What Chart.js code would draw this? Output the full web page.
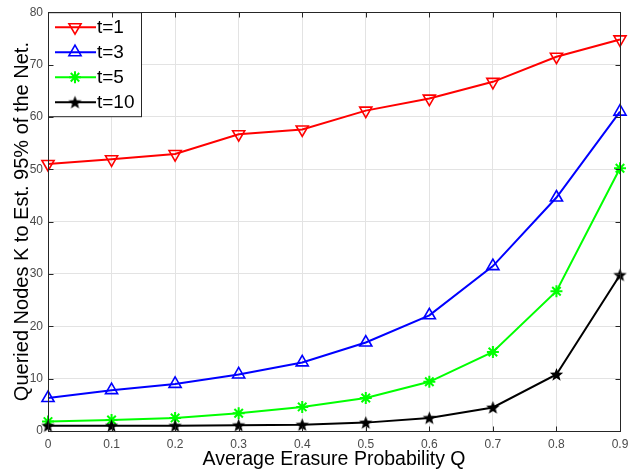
<!DOCTYPE html>
<html>
<head>
<meta charset="utf-8">
<script src="https://cdn.jsdelivr.net/npm/chart.js@4.4.1/dist/chart.umd.min.js"></script>
<style>
	html, body { margin: 0; padding: 0; background: #fff; }
	#wrap { position: relative; width: 644px; height: 473px; }
</style>
</head>
<body>
<div id="wrap"><canvas id="c" width="644" height="473"></canvas></div>
<script>
// Average erasure probability Q on the x axis
const qValues = [0, 0.1, 0.2, 0.3, 0.4, 0.5, 0.6, 0.7, 0.8, 0.9];

// Queried nodes K needed to estimate 95% of the network, per t
const kT1 = [51.0, 51.9, 52.9, 56.7, 57.6, 61.2, 63.5, 66.7, 71.5, 74.8];
const kT3 = [6.3, 7.8, 9.0, 10.8, 13.1, 16.9, 22.1, 31.5, 44.6, 61.0];
const kT5 = [1.8, 2.1, 2.5, 3.4, 4.6, 6.3, 9.4, 15.1, 26.7, 50.2];
const kT10 = [1.0, 1.0, 1.0, 1.1, 1.2, 1.6, 2.5, 4.5, 10.8, 29.8];

const seriesLabels = ["t=1", "t=3", "t=5", "t=10"];
const xTicks = [0, 0.1, 0.2, 0.3, 0.4, 0.5, 0.6, 0.7, 0.8, 0.9];
const yTicks = [0, 10, 20, 30, 40, 50, 60, 70, 80];

const FONT = "'Liberation Sans', Arial, Helvetica, sans-serif";

// filled five-point star (MATLAB 'p' marker) as an image point style
function make_star(size, color) {
	const cv = document.createElement("canvas");
	cv.width = size;
	cv.height = size;
	const ctx = cv.getContext("2d");
	const cx = size / 2, cy = size / 2 + 0.5;
	const ro = size / 2 - 0.5, ri = ro * 0.42;
	ctx.beginPath();
	for (let i = 0; i < 10; i++) {
		const r = i % 2 === 0 ? ro : ri;
		const a = -Math.PI / 2 + (i * Math.PI) / 5;
		const px = cx + r * Math.cos(a), py = cy + r * Math.sin(a);
		if (i === 0) ctx.moveTo(px, py);
		else ctx.lineTo(px, py);
	}
	ctx.closePath();
	ctx.fillStyle = color;
	ctx.fill();
	return cv;
}
const starImg = make_star(15, "#000");

const toPoints = (ys) => ys.map((y, i) => ({ x: qValues[i], y: y }));

// legend box inside the top-left corner, like MATLAB 'NorthWest'
const insideLegend = {
	id: "insideLegend",
	afterDatasetsDraw(chart) {
		const ctx = chart.ctx;
		const a = chart.chartArea;
		const x0 = a.left, y0 = a.top, w = 93, h = 104;
		ctx.save();
		ctx.fillStyle = "#fff";
		ctx.fillRect(x0, y0, w, h);
		ctx.strokeStyle = "#262626";
		ctx.lineWidth = 1;
		ctx.strokeRect(x0 + 0.5, y0 + 0.5, w, h);
		chart.data.datasets.forEach((ds, i) => {
			const cy = y0 + 15 + i * 25;
			ctx.strokeStyle = ds.borderColor;
			ctx.lineWidth = 2;
			ctx.beginPath();
			ctx.moveTo(x0 + 7, cy);
			ctx.lineTo(x0 + 48, cy);
			ctx.stroke();
			ctx.fillStyle = "rgba(0,0,0,0)";
			ctx.lineWidth = ds.pointBorderWidth;
			Chart.helpers.drawPoint(ctx, {
				pointStyle: ds.pointStyle,
				radius: ds.pointRadius,
				rotation: ds.pointRotation || 0,
				borderWidth: ds.pointBorderWidth,
			}, x0 + 27, cy);
			ctx.fillStyle = "#000";
			ctx.font = "19px " + FONT;
			ctx.textBaseline = "middle";
			ctx.fillText(ds.label, x0 + 49, cy + 1);
		});
		ctx.restore();
	},
};

// full axes box with inward ticks on all sides, MATLAB style
const boxFrame = {
	id: "boxFrame",
	afterDraw(chart) {
		const ctx = chart.ctx;
		const a = chart.chartArea;
		const L = Math.round(a.left) + 0.5, T = Math.round(a.top) + 0.5;
		const R = Math.round(a.right) + 0.5, B = Math.round(a.bottom) + 0.5;
		ctx.save();
		ctx.strokeStyle = "#262626";
		ctx.lineWidth = 1;
		ctx.beginPath();
		xTicks.forEach((v) => {
			const px = Math.round(chart.scales.x.getPixelForValue(v)) + 0.5;
			ctx.moveTo(px, B); ctx.lineTo(px, B - 5);
			ctx.moveTo(px, T); ctx.lineTo(px, T + 5);
		});
		yTicks.forEach((v) => {
			const py = Math.round(chart.scales.y.getPixelForValue(v)) + 0.5;
			ctx.moveTo(L, py); ctx.lineTo(L + 5, py);
			ctx.moveTo(R, py); ctx.lineTo(R - 5, py);
		});
		ctx.stroke();
		ctx.strokeRect(L, T, R - L, B - T);
		ctx.restore();
	},
};

const mkSet = (label, data, color, style, extra) => Object.assign({
	label: label,
	data: toPoints(data),
	borderColor: color,
	backgroundColor: "transparent",
	borderWidth: 2,
	pointStyle: style,
	pointRadius: 7,
	pointBorderColor: color,
	pointBackgroundColor: "transparent",
	pointBorderWidth: 1.6,
	tension: 0,
	fill: false,
	clip: false,
}, extra || {});

// draw order: first series on the bottom, as in MATLAB
new Chart(document.getElementById("c"), {
	type: "line",
	data: {
		datasets: [
			mkSet(seriesLabels[0], kT1, "#ff0000", "triangle", { pointRotation: 180, order: 4 }),
			mkSet(seriesLabels[1], kT3, "#0000ff", "triangle", { order: 3 }),
			mkSet(seriesLabels[2], kT5, "#00ff00", "star", { pointRadius: 6, pointBorderWidth: 2, order: 2 }),
			mkSet(seriesLabels[3], kT10, "#000000", starImg, { order: 1 }),
		],
	},
	options: {
		responsive: false,
		animation: false,
		devicePixelRatio: 1,
		layout: { padding: { left: 0, top: 8, right: 24, bottom: 0 } },
		plugins: { legend: { display: false }, tooltip: { enabled: false } },
		scales: {
			x: {
				type: "linear",
				min: 0,
				max: 0.9,
				afterBuildTicks: (s) => { s.ticks = xTicks.map((v) => ({ value: v })); },
				afterFit: (s) => { s.height = 42; },
				grid: { color: "#e3e3e3", tickLength: 0, drawTicks: false },
				border: { display: false },
				ticks: {
					color: "#4a4a4a",
					font: { family: FONT, size: 12 },
					padding: 6,
					maxRotation: 0,
					callback: (v) => String(Math.round(v * 10) / 10),
				},
				title: {
					display: true,
					text: "Average Erasure Probability Q",
					color: "#000",
					font: { family: FONT, size: 19.5 },
					padding: { top: 0, bottom: 2 },
				},
			},
			y: {
				min: 0,
				max: 80,
				afterBuildTicks: (s) => { s.ticks = yTicks.map((v) => ({ value: v })); },
				afterFit: (s) => { s.width = 48; },
				grid: { color: "#e3e3e3", tickLength: 0, drawTicks: false },
				border: { display: false },
				ticks: {
					color: "#4a4a4a",
					font: { family: FONT, size: 12 },
					padding: 5,
				},
				title: {
					display: true,
					text: "Queried Nodes K to Est. 95% of the Net.",
					color: "#000",
					font: { family: FONT, size: 20 },
					padding: { top: 10, bottom: 0 },
				},
			},
		},
	},
	plugins: [insideLegend, boxFrame],
});
</script>
</body>
</html>
